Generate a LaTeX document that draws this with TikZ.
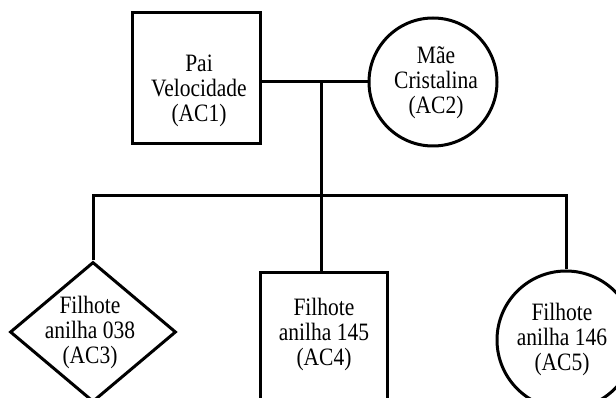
\documentclass[tikz,border=0pt]{standalone}
\usepackage{fontspec}
\setmainfont{Liberation Serif}
\newfontfamily\narrowserif[FakeStretch=0.86]{Liberation Serif}
\usetikzlibrary{shapes.geometric}
\begin{document}
\begin{tikzpicture}[x=1pt,y=-1pt,
  line width=3pt,
  member/.style={draw,line width=3pt,inner sep=0pt},
  lbl/.style={align=center,inner sep=0pt,font=\narrowserif\fontsize{25}{25}\selectfont}]
\useasboundingbox (0,0) rectangle (616,398);
\clip (0,0) rectangle (616,398);

% parents
\node[member,rectangle,minimum width=128pt,minimum height=131pt] (pai) at (196,78.5) {};
\node[member,circle,minimum size=128pt] (mae) at (433,82) {};
\node[lbl] (pait) at (199,91) {Pai\\Velocidade\\(AC1)};
\node[lbl] (maet) at (436,82.5) {Mãe\\Cristalina\\(AC2)};

% offspring
\node[member,diamond,minimum width=166pt,minimum height=140pt] (c3) at (93,332) {};
\node[member,rectangle,minimum width=127pt,minimum height=170pt] (c4) at (323.5,358) {};
\node[member,circle,minimum size=138pt] (c5) at (566,340) {};
\node[lbl] (c3t) at (90,332) {Filhote\\anilha 038\\(AC3)};
\node[lbl] (c4t) at (324,334) {Filhote\\anilha 145\\(AC4)};
\node[lbl] (c5t) at (562,339) {Filhote\\anilha 146\\(AC5)};

% couple line and descent line
\coordinate (m) at (321,82);
\coordinate (j) at (321,196);
\draw (pai.east |- mae.west) -- (mae.west);
\draw (m) -- (j);
\draw (c3.north) -- (c3.north |- j) -- (c5.north |- j) -- (c5.north);
\draw (j) -- (j |- c4.north);
\end{tikzpicture}
\end{document}
